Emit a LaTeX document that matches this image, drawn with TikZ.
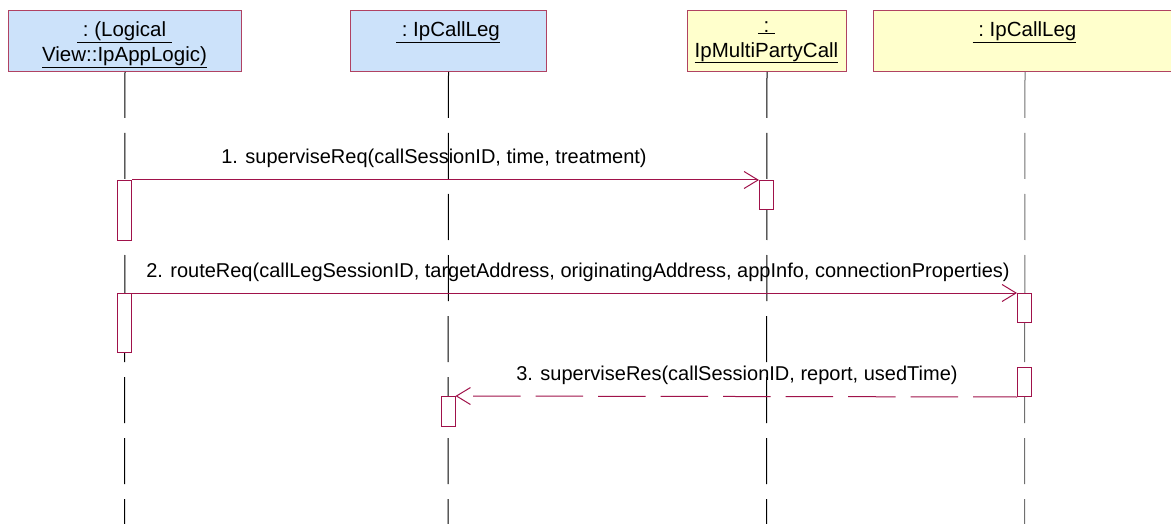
\documentclass[tikz,border=0pt]{standalone}
\usepackage{fontspec}
\setmainfont{Liberation Sans}
\usetikzlibrary{arrows.meta}
\definecolor{boxborder}{HTML}{B04262}
\definecolor{msgred}{HTML}{A0124A}
\definecolor{bluefill}{HTML}{CCE2FA}
\definecolor{yellowfill}{HTML}{FFFFCC}
\definecolor{lifegray}{HTML}{707070}
\tikzset{
 objbox/.style={draw=boxborder, line width=1pt, minimum height=61pt, inner sep=0pt, anchor=north west},
 objtitle/.style={font=\fontsize{20.5}{25}\selectfont, align=center, anchor=north, inner sep=0pt},
 lifeline/.style={line width=1pt, dash pattern=on 46pt off 15pt},
 actbox/.style={draw=msgred, fill=white, line width=1pt, minimum width=14pt, inner sep=0pt, anchor=north},
 msg/.style={draw=msgred, line width=1pt, -{Straight Barb[length=14pt,width=17pt,line width=1pt]}},
 reply/.style={msg, dash pattern=on 47.5pt off 15pt, dash phase=3.5pt},
 msglabel/.style={font=\fontsize{20}{24}\selectfont, anchor=base, inner sep=0pt},
}
\begin{document}
\begin{tikzpicture}[x=1pt,y=-1pt]
\useasboundingbox (0,0) rectangle (1171,524);
\clip (0,0) rectangle (1171,524);
% object boxes
\node[objbox, fill=bluefill, minimum width=233pt] (b1) at (8,10) {};
\node[objbox, fill=bluefill, minimum width=196pt] (b2) at (350,10) {};
\node[objbox, fill=yellowfill, minimum width=159pt] (b3) at (687,10) {};
\node[objbox, fill=yellowfill, minimum width=303pt] (b4) at (873,10) {};
\node[objtitle] (t1) at (124.5,21) {\underline{\ :\ (Logical\ }\\\underline{View::IpAppLogic)}};
\node[objtitle] (t2) at (448,21) {\underline{\ :\ IpCallLeg}};
\node[objtitle] (t3) at (766.5,21) {\underline{\ :\ }\\\underline{IpMultiPartyCall}};
\node[objtitle] (t4) at (1024.5,21) {\underline{\ :\ IpCallLeg}};
% lifeline ends
\coordinate (e1) at (124.5,530);
\coordinate (e2) at (448,530);
\coordinate (e3) at (766.5,530);
\coordinate (e4) at (1024.5,530);
\draw[lifeline] (b1.south) -- (e1);
\draw[lifeline] (b2.south) -- (e2);
\draw[lifeline] (b3.south) -- (e3);
\draw[lifeline, draw=lifegray] (b4.south) -- (e4);
% activations
\node[actbox, minimum height=60pt] (a1) at (124.5,180) {};
\node[actbox, minimum height=59pt] (a2) at (124.5,293) {};
\node[actbox, minimum height=29pt] (a3) at (766.5,180) {};
\node[actbox, minimum height=29pt] (a5) at (1024.5,293) {};
\node[actbox, minimum height=29pt] (a6) at (1024.5,367) {};
\node[actbox, minimum height=30pt] (a4) at (448,396) {};
% messages
\draw[msg] (a1.north east) -- (a3.north west);
\draw[msg] (a2.north east) -- (a5.north west);
\draw[reply] (a6.south west) -- (a4.north east);
% labels
\node[msglabel] (l1) at (434,164) {1. superviseReq(callSessionID, time, treatment)};
\node[msglabel] (l2) at (578,277) {2. routeReq(callLegSessionID, targetAddress, originatingAddress, appInfo, connectionProperties)};
\node[msglabel] (l3) at (737,380) {3. superviseRes(callSessionID, report, usedTime)};
\end{tikzpicture}
\end{document}
